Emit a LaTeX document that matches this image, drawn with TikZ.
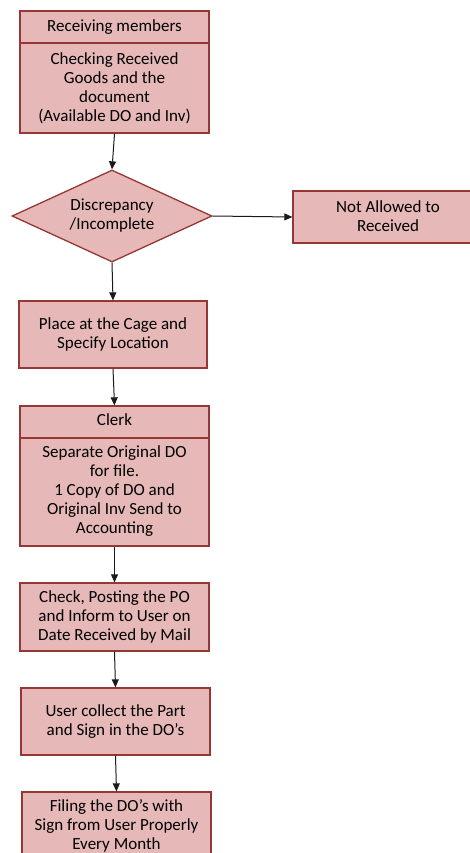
\documentclass[tikz,border=0pt]{standalone}
\usepackage{fontspec}
\setmainfont{Carlito}
\usetikzlibrary{shapes.geometric,arrows.meta}
\definecolor{boxfill}{HTML}{E6B9B8}
\definecolor{boxline}{HTML}{953735}
\definecolor{arrowcol}{HTML}{1A1A1A}
\begin{document}
\begin{tikzpicture}[x=1pt,y=-1pt,
  box/.style={draw=boxline, fill=boxfill, line width=1.3pt, rectangle, inner sep=0pt, minimum width=189pt, align=center, font=\fontsize{17}{19}\selectfont, text=black},
  txt/.style={inner sep=0pt, align=center, font=\fontsize{17}{19}\selectfont, text=black},
  decision/.style={draw=boxline, fill=boxfill, line width=1.3pt, diamond, aspect=2.17, minimum width=200pt, minimum height=92pt, inner sep=0pt, align=center, font=\fontsize{17}{19}\selectfont, text=black},
  divider/.style={draw=boxline, line width=1.3pt},
  flow/.style={draw=arrowcol, line width=1pt, -{Triangle[length=8pt,width=7pt]}}
]
\useasboundingbox (0,0) rectangle (470,853);
\clip (0,0) rectangle (470,853);
\fill[white] (0,0) rectangle (470,853);

% Receiving members box
\node[box, minimum height=122pt] (b1) at (114.5,72) {};
\node[txt] (b1t) at (114.5,27) {Receiving members};
\coordinate (b1d) at (0,43);
\draw[divider] (b1.west |- b1d) -- (b1.east |- b1d);
\node[txt] (b1b) at (114.5,88.5) {Checking Received\\Goods and the\\document\\(Available DO and Inv)};

% Decision
\node[decision] (dia) at (112,216) {Discrepancy\\/Incomplete};

% Not allowed
\node[box, minimum width=184pt, minimum height=52pt] (na) at (385,217) {};
\node[txt] (nat) at (388,216) {Not Allowed to\\Received};

% Place at the cage
\node[box, minimum width=188pt, minimum height=67pt] (pl) at (113,334.5) {Place at the Cage and\\Specify Location};

% Clerk box
\node[box, minimum height=140pt] (cl) at (114.5,476) {};
\node[txt] (clt) at (114.5,420) {Clerk};
\coordinate (cld) at (0,438);
\draw[divider] (cl.west |- cld) -- (cl.east |- cld);
\node[txt] (clb) at (114.5,491) {Separate Original DO\\for file.\\1 Copy of DO and\\Original Inv Send to\\Accounting};

% Check
\node[box, minimum height=68pt] (ck) at (114.5,617) {Check, Posting the PO\\and Inform to User on\\Date Received by Mail};

% User
\node[box, minimum height=67pt] (us) at (115.5,721.5) {User collect the Part\\and Sign in the DO’s};

% Filing
\node[box, minimum height=68pt] (fi) at (116.5,826) {Filing the DO’s with\\Sign from User Properly\\Every Month};

% Connectors
\draw[flow] (b1.south) -- (dia.north);
\draw[flow] (dia.east) -- (na.west);
\draw[flow] (dia.south) -- (pl.north);
\draw[flow] (pl.south) -- (cl.north);
\draw[flow] (cl.south) -- (ck.north);
\draw[flow] (ck.south) -- (us.north);
\draw[flow] (us.south) -- (fi.north);
\end{tikzpicture}
\end{document}
